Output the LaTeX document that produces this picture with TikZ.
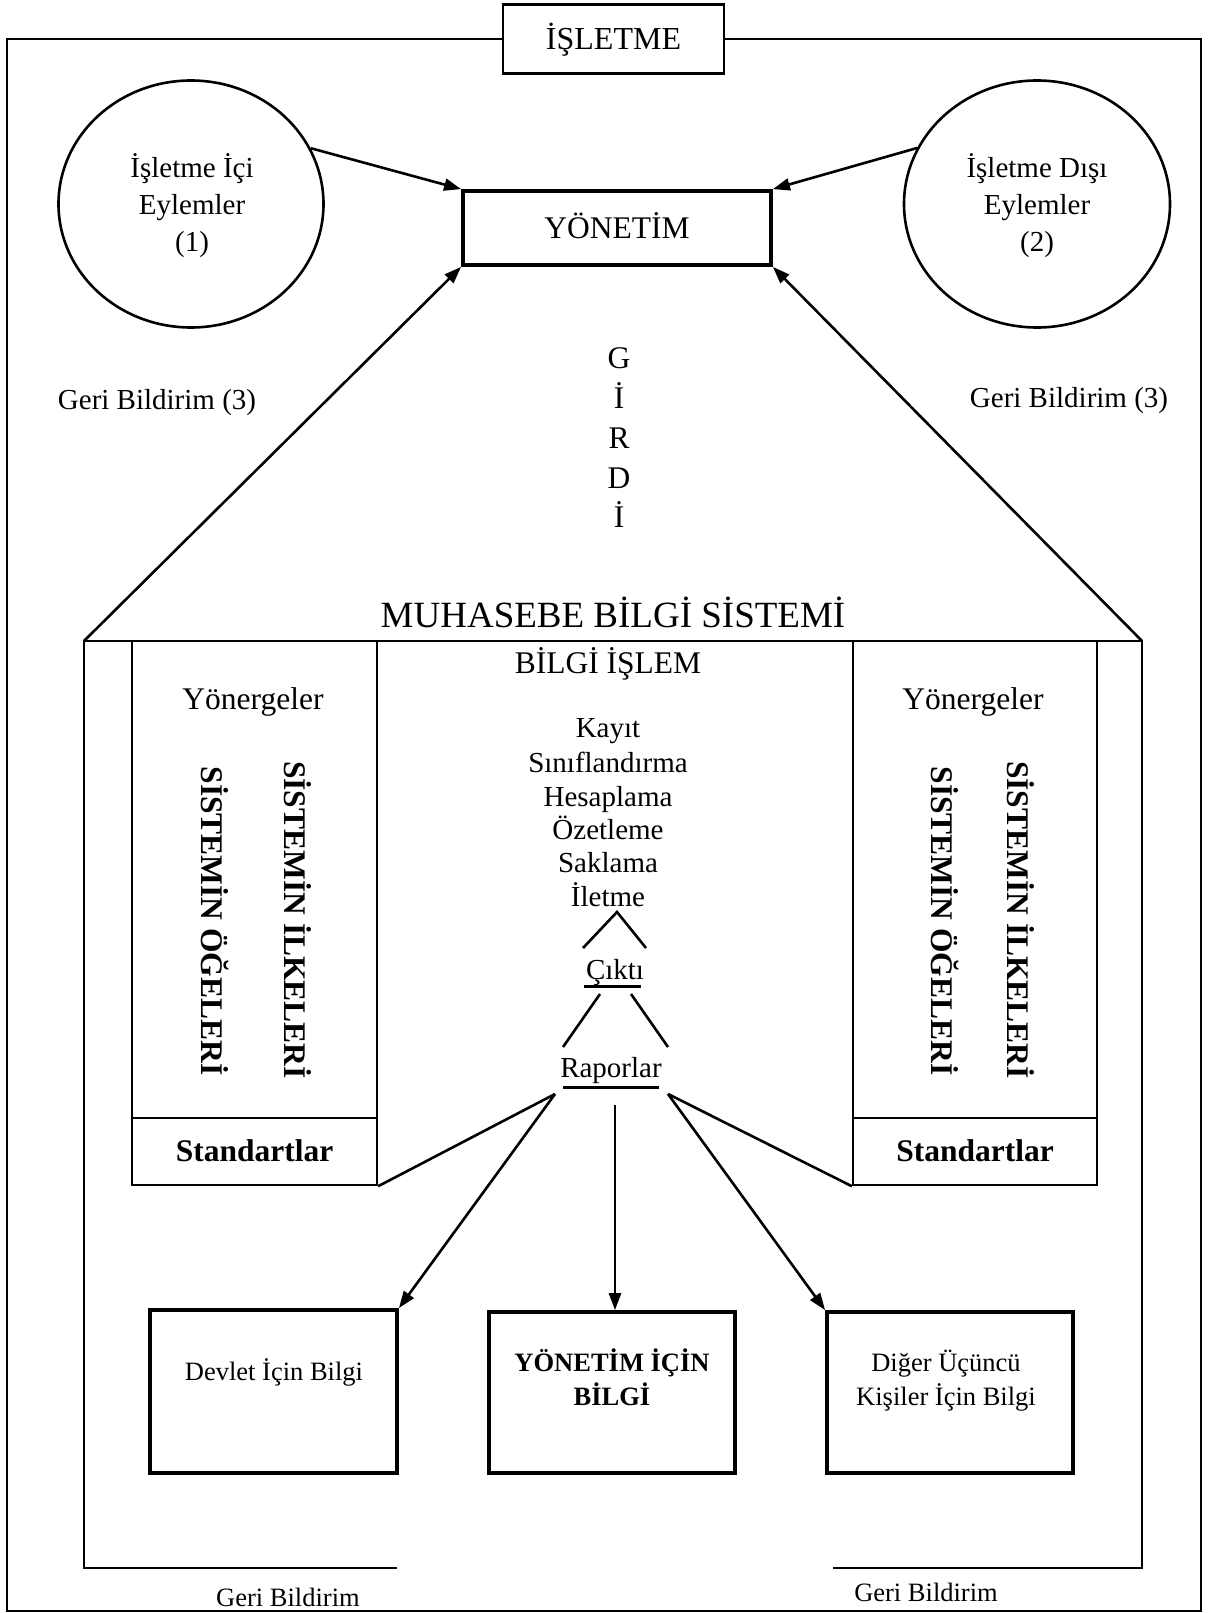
\documentclass[tikz,border=0pt]{standalone}
\usepackage{fontspec}
\setmainfont{Liberation Serif}
\usetikzlibrary{arrows.meta,shapes.geometric}
\begin{document}
\begin{tikzpicture}[x=1pt,y=-1pt,
  frameline/.style={line width=2.4pt},
  conn/.style={line width=2.6pt},
  arr/.style={line width=2.6pt,-{Triangle[length=17pt,width=12pt]}},
  heavy/.style={draw,rectangle,line width=3.8pt},
  boxnode/.style={draw,rectangle,line width=2.4pt},
  f26/.style={inner sep=0pt,font=\fontsize{26.5}{30}\selectfont,text height=17.5pt,text depth=0pt},
  f26b/.style={inner sep=0pt,font=\fontsize{26.5}{30}\selectfont\bfseries,text height=17.5pt,text depth=0pt},
  f29/.style={inner sep=0pt,font=\fontsize{29}{33}\selectfont,text height=19.2pt,text depth=0pt},
  f31/.style={inner sep=0pt,font=\fontsize{31.5}{36}\selectfont,text height=20.9pt,text depth=0pt},
  f31b/.style={inner sep=0pt,font=\fontsize{31.5}{36}\selectfont\bfseries,text height=20.9pt,text depth=0pt},
  f32/.style={inner sep=0pt,font=\fontsize{32}{36}\selectfont,text height=21.2pt,text depth=0pt},
  f37/.style={inner sep=0pt,font=\fontsize{37}{42}\selectfont,text height=24.5pt,text depth=0pt},
]
\useasboundingbox (0,0) rectangle (1209,1613);

% business frame with its title box
\node[f32,boxnode,minimum width=221pt,minimum height=69pt] (isl) at (613.5,39) {İŞLETME};
\draw[frameline] (isl.west) -- (7,39) -- (7,1611) -- (1201,1611) -- (1201,39) -- (isl.east);

% internal and external activities
\node[draw,ellipse,line width=2.6pt,minimum width=265pt,minimum height=247pt,inner sep=0pt] (lc) at (191,204) {};
\node[f29] (lc1) at (192,168) {İşletme İçi};
\node[f29] (lc2) at (192,205) {Eylemler};
\node[f29] (lc3) at (192,242) {(1)};
\node[draw,ellipse,line width=2.6pt,minimum width=266pt,minimum height=247pt,inner sep=0pt] (rc) at (1037,204) {};
\node[f29] (rc1) at (1037,168) {İşletme Dışı};
\node[f29] (rc2) at (1037,205) {Eylemler};
\node[f29] (rc3) at (1037,242) {(2)};

% management
\node[f31,heavy,minimum width=308pt,minimum height=74pt] (yon) at (617,228) {YÖNETİM};
\draw[arr] (lc.25) -- (yon.north west);
\draw[arr] (rc.155) -- (yon.north east);

\node[f29] (gb1) at (157,400) {Geri Bildirim (3)};
\node[f29] (gb2) at (1069,398) {Geri Bildirim (3)};

% vertical input label
\node[f31] (g1) at (619,358) {G};
\node[f31] (g2) at (619,398) {İ};
\node[f31] (g3) at (619,438) {R};
\node[f31] (g4) at (619,478) {D};
\node[f31] (g5) at (619,517) {İ};

% accounting information system block
\node[f37] (mbs) at (613,615) {MUHASEBE BİLGİ SİSTEMİ};
\coordinate (cTL) at (84,641);
\coordinate (cTR) at (1142,641);
\coordinate (cBL) at (84,1568);
\coordinate (cBR) at (1142,1568);
\coordinate (cBLe) at (397,1568);
\coordinate (cBRe) at (833,1568);
\draw[conn] (cBLe) -- (cBL) -- (cTL) -- (cTR) -- (cBR) -- (cBRe);
\draw[arr] (cTL) -- (yon.south west);
\draw[arr] (cTR) -- (yon.south east);

% side columns
\node[boxnode,minimum width=245pt,minimum height=477pt] (colL) at (254.5,879.5) {};
\node[f31b,boxnode,minimum width=245pt,minimum height=67pt] (stdL) at (254.5,1151.5) {Standartlar};
\node[boxnode,minimum width=244pt,minimum height=477pt] (colR) at (975,879.5) {};
\node[f31b,boxnode,minimum width=244pt,minimum height=67pt] (stdR) at (975,1151.5) {Standartlar};
\node[f31] (yL) at (253,699) {Yönergeler};
\node[f31] (yR) at (973,699) {Yönergeler};
\node[f31b,rotate=-90] (oL) at (212,921) {SİSTEMİN ÖĞELERİ};
\node[f31b,rotate=-90] (iL) at (295,920) {SİSTEMİN İLKELERİ};
\node[f31b,rotate=-90] (oR) at (942,921) {SİSTEMİN ÖĞELERİ};
\node[f31b,rotate=-90] (iR) at (1018,920) {SİSTEMİN İLKELERİ};

% information processing
\node[f31] (bi) at (608,663) {BİLGİ İŞLEM};
\node[f29] (k1) at (608,728) {Kayıt};
\node[f29] (k2) at (608,763) {Sınıflandırma};
\node[f29] (k3) at (608,797) {Hesaplama};
\node[f29] (k4) at (608,830) {Özetleme};
\node[f29] (k5) at (608,863) {Saklama};
\node[f29] (k6) at (608,897) {İletme};

\coordinate (t1) at (583,948);
\coordinate (t2) at (617,912);
\coordinate (t3) at (646,948);
\draw[conn] (t1) -- (t2) -- (t3);

\node[f29] (cik) at (615,970) {Çıktı};
\draw[line width=3pt] (584,986) -- (641,986);
\coordinate (u1) at (600,994);
\coordinate (u2) at (563,1047);
\coordinate (u3) at (631,994);
\coordinate (u4) at (668,1047);
\draw[conn] (u1) -- (u2);
\draw[conn] (u3) -- (u4);

\node[f29] (rap) at (611,1068) {Raporlar};
\draw[line width=3pt] (563,1087) -- (659,1087);

% outputs
\node[heavy,minimum width=247pt,minimum height=163pt] (dev) at (273.5,1391.5) {};
\node[heavy,minimum width=246pt,minimum height=161pt] (yib) at (612,1392.5) {};
\node[heavy,minimum width=246pt,minimum height=161pt] (dig) at (950,1392.5) {};
\node[f26] (devt) at (274,1372) {Devlet İçin Bilgi};
\node[f26b] (yibt1) at (612,1363) {YÖNETİM İÇİN};
\node[f26b] (yibt2) at (612,1397) {BİLGİ};
\node[f26] (digt1) at (946,1363) {Diğer Üçüncü};
\node[f26] (digt2) at (946,1397) {Kişiler İçin Bilgi};

\coordinate (rpL) at (555,1094);
\coordinate (rpM) at (615,1105);
\coordinate (rpR) at (668,1094);
\draw[conn] (stdL.south east) -- (rpL);
\draw[conn] (stdR.south west) -- (rpR);
\draw[arr] (rpL) -- (dev.north east);
\draw[arr] (rpM) -- (rpM |- yib.north);
\draw[arr] (rpR) -- (dig.north west);

% feedback labels
\node[f26] (gb3) at (288,1598) {Geri Bildirim};
\node[f26] (gb4) at (926,1593) {Geri Bildirim};
\end{tikzpicture}
\end{document}
